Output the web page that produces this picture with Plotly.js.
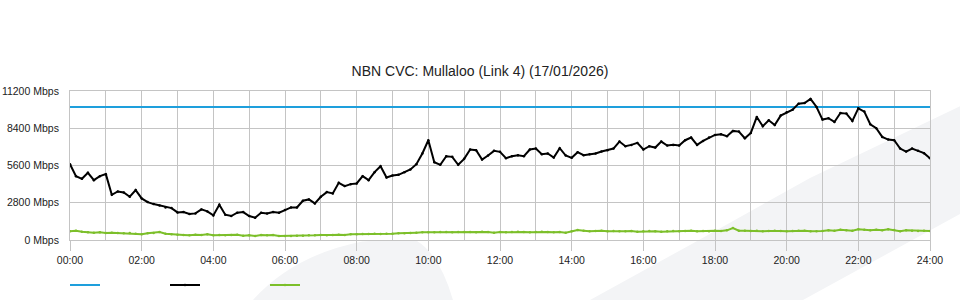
<!DOCTYPE html>
<html>
<head>
<meta charset="utf-8">
<script src="https://cdn.plot.ly/plotly-3.0.1.min.js"></script>
<style>html,body{margin:0;padding:0;background:#fff;}#chart{width:960px;height:300px;}</style>
</head>
<body>
<div id="chart"></div>
<script>
// Time tick labels (hours 0..24, every 2 hours)
const tickHours = [0, 2, 4, 6, 8, 10, 12, 14, 16, 18, 20, 22, 24];
const tickLabels = ["00:00", "02:00", "04:00", "06:00", "08:00", "10:00", "12:00", "14:00", "16:00", "18:00", "20:00", "22:00", "24:00"];
const yTicks = [0, 2800, 5600, 8400, 11200];
const yTickLabels = ["0 Mbps", "2800 Mbps", "5600 Mbps", "8400 Mbps", "11200 Mbps"];

// Capacity (blue), Mbps
const capacityHours = [0, 24];
const capacity = [10000, 10000];

// Download / total utilisation (black), Mbps, every 10 minutes
const download = [
  5700, 4800, 4600, 5050, 4500, 4800, 4950, 3400, 3650, 3575,
  3250, 3750, 3125, 2850, 2700, 2600, 2450, 2400, 2075, 2100,
  1950, 2000, 2300, 2150, 1850, 2650, 1900, 1800, 2050, 2100,
  1800, 1675, 2050, 2000, 2100, 2050, 2250, 2450, 2450, 2950,
  3050, 2750, 3250, 3600, 3500, 4300, 4050, 4200, 4250, 4800,
  4500, 5100, 5550, 4700, 4850, 4900, 5100, 5300, 5700, 6500,
  7500, 5850, 5650, 6300, 6250, 5650, 6100, 6800, 6750, 6050,
  6350, 6700, 6625, 6150, 6300, 6375, 6300, 6800, 6875, 6450,
  6500, 6200, 6900, 6350, 6175, 6600, 6375, 6450, 6500, 6650,
  6750, 6875, 7400, 7050, 7150, 7300, 6800, 7050, 6950, 7400,
  7100, 7150, 7100, 7500, 7700, 7150, 7450, 7700, 7900, 7950,
  7800, 8200, 8150, 7650, 8050, 9250, 8550, 9000, 8650, 9350,
  9600, 9800, 10250, 10300, 10600, 10000, 9050, 9150, 8875, 9550,
  9500, 8950, 9900, 9650, 8700, 8400, 7750, 7550, 7500, 6875,
  6650, 6875, 6700, 6525, 6150
];

// Upload (green), Mbps, every 10 minutes
const upload = [
  650, 700, 625, 575, 550, 575, 525, 550, 525, 500,
  525, 475, 425, 500, 525, 600, 475, 425, 400, 375,
  350, 400, 375, 425, 350, 375, 350, 375, 400, 325,
  350, 300, 375, 350, 375, 300, 300, 300, 325, 325,
  350, 350, 375, 350, 375, 400, 375, 425, 425, 450,
  450, 475, 450, 475, 475, 500, 500, 525, 550, 575,
  575, 575, 600, 600, 575, 600, 600, 600, 575, 625,
  600, 550, 600, 575, 600, 625, 600, 575, 600, 625,
  600, 575, 600, 550, 650, 750, 700, 650, 675, 700,
  650, 675, 650, 650, 675, 625, 650, 675, 650, 625,
  650, 675, 650, 675, 700, 650, 675, 650, 700, 675,
  725, 900, 700, 700, 675, 700, 650, 675, 700, 675,
  650, 675, 700, 700, 650, 650, 675, 725, 700, 775,
  725, 700, 800, 775, 725, 775, 725, 800, 750, 650,
  725, 700, 675, 700, 675
];

const sampleHours = download.map((_, i) => i / 6);

const FONT = "Liberation Sans, Arial, Helvetica, sans-serif";
const BLUE = "#1e9fdc", BLACK = "#000000", GREEN = "#7cbf2a";
const GRID = "#c4c4c4";

const traces = [
  {x: capacityHours, y: capacity, name: "", type: "scatter", mode: "lines",
   line: {color: BLUE, width: 2}, hoverinfo: "skip"},
  {x: sampleHours, y: download, name: "", type: "scatter", mode: "lines+markers",
   line: {color: BLACK, width: 2}, marker: {color: BLACK, size: 2.5}, hoverinfo: "skip"},
  {x: sampleHours, y: upload, name: "", type: "scatter", mode: "lines+markers",
   line: {color: GREEN, width: 2}, marker: {color: GREEN, size: 2.5}, hoverinfo: "skip"}
];

// background watermark shapes (decorative)
const WM = "#f3f4f6";
const layout = {
  width: 960, height: 300,
  margin: {l: 70, r: 30, t: 90.7, b: 60, pad: 0},
  paper_bgcolor: "#ffffff",
  plot_bgcolor: "rgba(0,0,0,0)",
  font: {family: FONT, size: 10.5, color: "#222"},
  title: {text: "NBN CVC: Mullaloo (Link 4) (17/01/2026)", font: {family: FONT, size: 14, color: "#222"},
          x: 0.5, xanchor: "center", xref: "container", y: 1 - 71 / 300, yref: "container", yanchor: "middle"},
  showlegend: true,
  legend: {orientation: "h", xref: "container", yref: "container", x: 65 / 960, y: 1 - 285 / 300,
           xanchor: "left", yanchor: "middle", entrywidth: 55, entrywidthmode: "pixels",
           itemwidth: 30, font: {size: 10}, bgcolor: "rgba(0,0,0,0)"},
  xaxis: {range: [0, 24], tickvals: tickHours, ticktext: tickLabels, showgrid: true, gridcolor: GRID, gridwidth: 1,
          minor: {dtick: 1, showgrid: true, gridcolor: GRID, gridwidth: 1, ticks: ""},
          ticks: "outside", ticklen: 10, tickcolor: GRID, tickwidth: 1,
          showline: true, linecolor: GRID, linewidth: 1, mirror: true, zeroline: false, fixedrange: true,
          tickfont: {size: 10.5, color: "#222"}},
  yaxis: {range: [0, 11200], tickvals: yTicks, ticktext: yTickLabels, showgrid: true, gridcolor: GRID, gridwidth: 1,
          ticks: "", ticklabelstandoff: 8, showline: true, linecolor: GRID, linewidth: 1, mirror: true,
          zeroline: false, fixedrange: true, tickfont: {size: 10.5, color: "#222"}},
  shapes: [
    {type: "path", xref: "paper", yref: "paper", layer: "below", line: {width: 0}, fillcolor: WM,
     path: "M0.6047,-0.4019 L0.7209,-0.0335 L0.8605,0.4153 L1.0349,0.8975 L1.0349,0.1741 L0.8523,-0.4019 Z"},
    {type: "path", xref: "paper", yref: "paper", layer: "below", line: {width: 0}, fillcolor: WM,
     path: "M0.2128,-0.4019 Q0.2600,-0.1000 0.3400,-0.0100 Q0.3700,0.0050 0.4035,-0.0067 Q0.4300,-0.1000 0.4453,-0.4019 Z"}
  ]
};

Plotly.newPlot("chart", traces, layout, {displayModeBar: false, staticPlot: true});
</script>
</body>
</html>
